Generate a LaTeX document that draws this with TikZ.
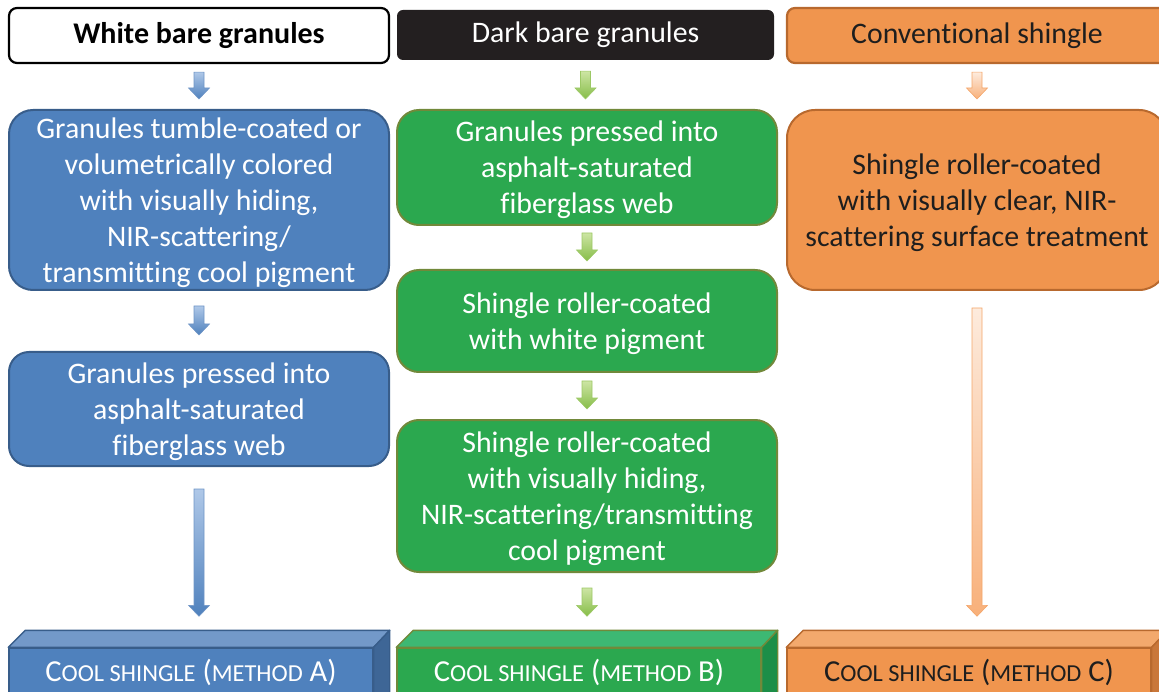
\documentclass[tikz,border=0pt]{standalone}
\usepackage{fontspec}
\setmainfont{Carlito}[Ligatures=NoCommon]
\usetikzlibrary{calc}
\definecolor{bFill}{HTML}{4F81BD}
\definecolor{bLine}{HTML}{385D8A}
\definecolor{bTop}{HTML}{7399C9}
\definecolor{bSide}{HTML}{3E6696}
\definecolor{gFill}{HTML}{2BA84F}
\definecolor{gLine}{HTML}{71893A}
\definecolor{gTop}{HTML}{3DB873}
\definecolor{gSide}{HTML}{1C8E48}
\definecolor{oFill}{HTML}{F0954E}
\definecolor{oLine}{HTML}{B8692E}
\definecolor{oTop}{HTML}{F3A96D}
\definecolor{oSide}{HTML}{C9773A}
\definecolor{darkHead}{HTML}{231F20}
\definecolor{txtDark}{HTML}{1E1E1E}
\definecolor{abTop}{HTML}{AFC8E8}
\definecolor{abBot}{HTML}{4F81BD}
\definecolor{abLine}{HTML}{6F95C6}
\definecolor{agTop}{HTML}{CDE5A4}
\definecolor{agBot}{HTML}{86BD48}
\definecolor{agLine}{HTML}{9CC865}
\definecolor{aoTop}{HTML}{FDEBDD}
\definecolor{aoBot}{HTML}{F8B07A}
\definecolor{aoLine}{HTML}{F4A66A}
\newcommand\smc[1]{{\fontsize{24.4}{24}\selectfont #1}}
\newcommand\barrow[5]{%
  \shadedraw[#5] let \p1=(#1.south), \p2=(#2.north) in
   (\x1-5pt,\y1-#3pt) -- (\x1+5pt,\y1-#3pt) -- (\x1+5pt,\y2+#4pt+11pt)
   -- (\x1+10.5pt,\y2+#4pt+11pt) -- (\x1,\y2+#4pt) -- (\x1-10.5pt,\y2+#4pt+11pt)
   -- (\x1-5pt,\y2+#4pt+11pt) -- cycle;}
\begin{document}
\begin{tikzpicture}[x=1pt,y=-1pt,
  txt/.style={font=\fontsize{29.8}{36}\selectfont, align=center, inner sep=0pt},
  head/.style={txt, rounded corners=8pt, line width=2.2pt, minimum width=380pt, minimum height=55pt},
  box/.style={txt, line width=2pt, minimum width=380pt, text depth=0pt},
  bluebox/.style={box, fill=bFill, draw=bLine, text=white, rounded corners=24pt},
  greenbox/.style={box, fill=gFill, draw=gLine, text=white, rounded corners=22pt},
  orangebox/.style={box, fill=oFill, draw=oLine, text=txtDark, rounded corners=28pt},
  cool/.style={font=\fontsize{30.5}{32}\selectfont, inner sep=0pt, line width=1.4pt, minimum width=364pt, minimum height=48pt},
  arrB/.style={top color=abTop, bottom color=abBot, draw=abLine, line width=0.6pt},
  arrG/.style={top color=agTop, bottom color=agBot, draw=agLine, line width=0.6pt},
  arrO/.style={top color=aoTop, bottom color=aoBot, draw=aoLine, line width=0.6pt},
]
\useasboundingbox (0,0) rectangle (1159,692);
\clip (0,0) rectangle (1159,692);

% headers
\node[head, draw=black, fill=white, font=\fontsize{30}{36}\selectfont\bfseries] (h1) at (199,35.5) {White bare granules};
\node[head, fill=darkHead, text=white, rounded corners=6pt, minimum width=377pt, minimum height=50pt] (h2) at (585.5,35) {Dark bare granules};
\node[head, fill=oFill, draw=oLine, text=txtDark] (h3) at (977,35.5) {Conventional shingle};

% blue column
\node[bluebox, minimum height=180pt] (b1) at (199,200) {Granules tumble-coated or\\volumetrically colored\\with visually hiding,\\NIR-scattering/\\transmitting cool pigment};
\node[bluebox, minimum height=114pt, rounded corners=20pt] (b2) at (199,409) {Granules pressed into\\asphalt-saturated\\fiberglass web};

% green column
\node[greenbox, minimum height=115pt] (g1) at (587,167.5) {Granules pressed into\\asphalt-saturated\\fiberglass web};
\node[greenbox, minimum height=102pt] (g2) at (587,321) {Shingle roller-coated\\with white pigment};
\node[greenbox, minimum height=152pt] (g3) at (587,496) {Shingle roller-coated\\with visually hiding,\\NIR-scattering/transmitting\\cool pigment};

% orange column
\node[orangebox, minimum height=180pt] (o1) at (977,200) {Shingle roller-coated\\with visually clear, NIR-\\scattering surface treatment};

% bottom 3D boxes
\node[cool, fill=bFill, draw=bLine, text=white] (cA) at (191,672) {C\smc{OOL SHINGLE} (\smc{METHOD} A)};
\filldraw[fill=bTop, draw=bLine, line width=1.4pt, line join=round] (cA.north west) -- ++(17pt,17pt) -- ($(cA.north east)+(16pt,17pt)$) -- (cA.north east) -- cycle;
\filldraw[fill=bSide, draw=bLine, line width=1.4pt, line join=round] (cA.north east) -- ++(16pt,17pt) -- ++(0pt,-80pt) -- (cA.south east) -- cycle;

\node[cool, fill=gFill, draw=gLine, text=white] (cB) at (579,672) {C\smc{OOL SHINGLE} (\smc{METHOD} B)};
\filldraw[fill=gTop, draw=gLine, line width=1.4pt, line join=round] (cB.north west) -- ++(17pt,17pt) -- ($(cB.north east)+(16pt,17pt)$) -- (cB.north east) -- cycle;
\filldraw[fill=gSide, draw=gLine, line width=1.4pt, line join=round] (cB.north east) -- ++(16pt,17pt) -- ++(0pt,-80pt) -- (cB.south east) -- cycle;

\node[cool, fill=oFill, draw=oLine, text=txtDark] (cC) at (969,672) {C\smc{OOL SHINGLE} (\smc{METHOD} C)};
\filldraw[fill=oTop, draw=oLine, line width=1.4pt, line join=round] (cC.north west) -- ++(17pt,17pt) -- ($(cC.north east)+(16pt,17pt)$) -- (cC.north east) -- cycle;
\filldraw[fill=oSide, draw=oLine, line width=1.4pt, line join=round] (cC.north east) -- ++(16pt,17pt) -- ++(0pt,-80pt) -- (cC.south east) -- cycle;

% arrows
\barrow{h1}{b1}{8}{10}{arrB}
\barrow{b1}{b2}{15}{16}{arrB}
\barrow{b2}{cA}{22}{31}{arrB}
\barrow{h2}{g1}{10}{10}{arrG}
\barrow{g1}{g2}{7}{8}{arrG}
\barrow{g2}{g3}{8}{10}{arrG}
\barrow{g3}{cB}{15}{31}{arrG}
\barrow{h3}{o1}{8}{10}{arrO}
\barrow{o1}{cC}{17}{31}{arrO}
\end{tikzpicture}
\end{document}
